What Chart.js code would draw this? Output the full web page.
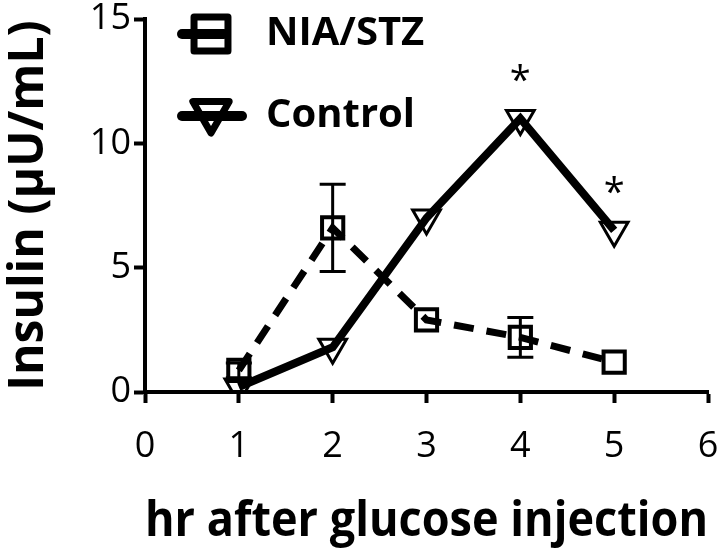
<!DOCTYPE html>
<html>
<head>
<meta charset="utf-8">
<script src="https://cdn.jsdelivr.net/npm/chart.js@4.4.1/dist/chart.umd.min.js"></script>
<style>
  html, body { margin: 0; padding: 0; background: #fff; }
  #wrap { width: 727px; height: 549px; position: relative; }
</style>
</head>
<body>
<div id="wrap"><canvas id="ctx" width="727" height="549"></canvas></div>
<script>
// data
const hours = [1, 2, 3, 4, 5];
const niaStz = [0.87, 6.6, 2.9, 2.2, 1.2];
const niaStzErr = [0.3, 1.75, 0, 0.8, 0];
const control = [0.2, 1.8, 7.0, 11.0, 6.5];
const controlErr = [0, 0, 0, 0, 0];
const controlSig = ['', '', '', '*', '*'];
const xTicks = [0, 1, 2, 3, 4, 5, 6];
const yTicks = [0, 5, 10, 15];

const FONT = '"Open Sans", "DejaVu Sans", sans-serif';

const toXY = (vals) => hours.map((h, i) => ({ x: h, y: vals[i] }));

// error bars + significance stars
const extrasPlugin = {
  id: 'extras',
  afterDatasetsDraw(chart) {
    const { ctx, scales: { x, y } } = chart;
    const errs = [niaStzErr, controlErr];
    ctx.save();
    ctx.strokeStyle = '#000';
    ctx.lineWidth = 3;
    errs.forEach((err, d) => {
      const vals = chart.data.datasets[d].data;
      vals.forEach((p, i) => {
        if (!err[i]) return;
        const px = x.getPixelForValue(p.x);
        const top = y.getPixelForValue(p.y + err[i]);
        const bot = y.getPixelForValue(p.y - err[i]);
        ctx.beginPath();
        ctx.moveTo(px, top); ctx.lineTo(px, bot);
        ctx.moveTo(px - 13, top); ctx.lineTo(px + 13, top);
        ctx.moveTo(px - 13, bot); ctx.lineTo(px + 13, bot);
        ctx.stroke();
      });
    });
    ctx.fillStyle = '#000';
    ctx.font = '38px ' + FONT;
    ctx.textAlign = 'center';
    ctx.textBaseline = 'middle';
    controlSig.forEach((s, i) => {
      if (!s) return;
      const px = x.getPixelForValue(hours[i]);
      const py = y.getPixelForValue(control[i]);
      ctx.fillText(s, px, py - 36);
    });
    ctx.restore();
  }
};

// legend drawn inside plot, top-left
const legendPlugin = {
  id: 'insideLegend',
  afterDraw(chart) {
    const { ctx } = chart;
    const rows = [
      { y: 34, lineTo: 224, r: 24, dy: 0 },
      { y: 116, lineTo: 242, r: 21, dy: -4 }
    ];
    ctx.save();
    chart.data.datasets.forEach((ds, i) => {
      const row = rows[i];
      ctx.strokeStyle = '#000';
      ctx.lineWidth = 10;
      ctx.lineCap = 'round';
      ctx.beginPath();
      ctx.moveTo(182, row.y); ctx.lineTo(row.lineTo, row.y);
      ctx.stroke();
      ctx.lineCap = 'butt';
      ctx.lineJoin = 'round';
      ctx.lineWidth = 7;
      ctx.fillStyle = 'rgba(255,255,255,0)';
      Chart.helpers.drawPoint(ctx, {
        pointStyle: ds.pointStyle, radius: row.r,
        rotation: ds.pointRotation || 0, borderWidth: 7
      }, 211, row.y + row.dy);
      ctx.fillStyle = '#000';
      ctx.font = 'bold 40px ' + FONT;
      ctx.textAlign = 'left';
      ctx.textBaseline = 'middle';
      ctx.fillText(ds.label, 266, row.y);
    });
    ctx.restore();
  }
};

new Chart(document.getElementById('ctx'), {
  type: 'line',
  data: {
    datasets: [{
      label: 'NIA/STZ',
      data: toXY(niaStz),
      borderColor: '#000',
      borderWidth: 7,
      borderDash: [20, 13],
      pointStyle: 'rect',
      pointRadius: 15,
      pointBorderWidth: 4,
      pointBackgroundColor: 'rgba(255,255,255,0)',
      pointBorderColor: '#000',
      tension: 0
    }, {
      label: 'Control',
      data: toXY(control),
      borderColor: '#000',
      borderWidth: 8,
      pointStyle: 'triangle',
      pointRotation: 180,
      pointRadius: 16,
      pointBorderWidth: 3,
      pointBackgroundColor: 'rgba(255,255,255,0)',
      pointBorderColor: '#000',
      tension: 0
    }]
  },
  options: {
    responsive: false,
    animation: false,
    devicePixelRatio: 1,
    layout: { padding: { top: 15, right: 16, left: 0, bottom: 0 } },
    plugins: { legend: { display: false }, tooltip: { enabled: false } },
    scales: {
      x: {
        type: 'linear', min: 0, max: 6,
        afterBuildTicks: (s) => { s.ticks = xTicks.map(v => ({ value: v })); },
        afterFit: (s) => { s.height = 157; s.paddingLeft = 0; s.paddingRight = 0; },
        border: { display: true, width: 4, color: '#000' },
        grid: { drawOnChartArea: false, drawTicks: true, tickLength: 11, tickWidth: 4, color: '#000' },
        ticks: { color: '#000', font: { family: FONT, size: 36 }, padding: 22, maxRotation: 0 },
        title: { display: true, text: 'hr after glucose injection', color: '#000',
                 font: { family: FONT, size: 49, weight: 'bold' }, padding: { top: 0, bottom: -2 } }
      },
      y: {
        type: 'linear', min: 0, max: 15,
        afterBuildTicks: (s) => { s.ticks = yTicks.map(v => ({ value: v })); },
        afterFit: (s) => { s.width = 145; s.paddingTop = 0; s.paddingBottom = 0; },
        border: { display: true, width: 4, color: '#000' },
        grid: { drawOnChartArea: false, drawTicks: true, tickLength: 11, tickWidth: 4, color: '#000' },
        ticks: { color: '#000', font: { family: FONT, size: 36 }, padding: 3 },
        title: { display: true, text: 'Insulin (µU/mL)', color: '#000',
                 font: { family: FONT, size: 48, weight: 'bold' }, padding: { top: 1, bottom: 0 } }
      }
    }
  },
  plugins: [extrasPlugin, legendPlugin]
});
</script>
</body>
</html>
